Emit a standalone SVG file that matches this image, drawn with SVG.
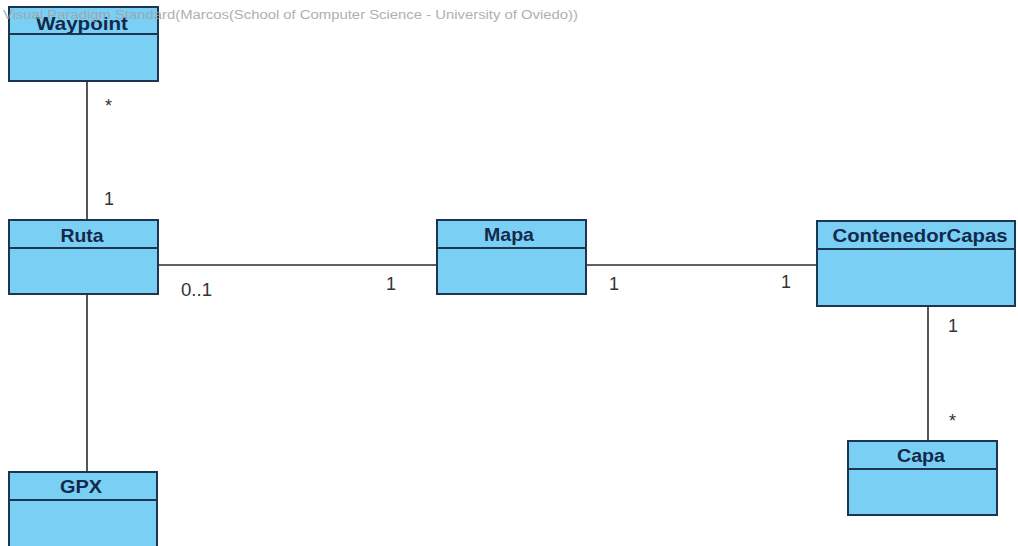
<svg xmlns="http://www.w3.org/2000/svg" width="1018" height="546" viewBox="0 0 1018 546">
  <style>
    .box { fill: #7acff5; stroke: #1d3550; stroke-width: 2; }
    .div { stroke: #1d3550; stroke-width: 2; }
    .name { font-family: "Liberation Sans", Arial, sans-serif; font-weight: bold; font-size: 19px; fill: #13294a; text-anchor: middle; }
    .conn { stroke: #2b2b2b; stroke-width: 1.6; fill: none; }
    .mult { font-family: "Liberation Sans", Arial, sans-serif; font-size: 18px; fill: #333333; }
    .wm { font-family: "Liberation Sans", Arial, sans-serif; font-size: 12px; fill: #a3a3a3; }
  </style>
  <rect width="1018" height="546" fill="#ffffff"/>

  <!-- associations -->
  <g id="connectors">
    <line class="conn" x1="87" y1="81" x2="87" y2="220"/>
    <line class="conn" x1="87" y1="294" x2="87" y2="472"/>
    <line class="conn" x1="158" y1="265" x2="437" y2="265"/>
    <line class="conn" x1="586" y1="265" x2="817" y2="265"/>
    <line class="conn" x1="928" y1="306" x2="928" y2="441"/>
    <text class="mult" x="105" y="112">*</text>
    <text class="mult" x="104" y="205">1</text>
    <text class="mult" x="181" y="296" textLength="31" lengthAdjust="spacingAndGlyphs">0..1</text>
    <text class="mult" x="386" y="290">1</text>
    <text class="mult" x="609" y="290">1</text>
    <text class="mult" x="781" y="288">1</text>
    <text class="mult" x="948" y="332">1</text>
    <text class="mult" x="949" y="427">*</text>
  </g>

  <g id="Waypoint">
    <rect class="box" x="9" y="7" width="149" height="74"/>
    <line class="div" x1="9" y1="34" x2="158" y2="34"/>
    <text class="name" x="82" y="30" textLength="92" lengthAdjust="spacingAndGlyphs">Waypoint</text>
  </g>

  <g id="Ruta">
    <rect class="box" x="9" y="220" width="149" height="74"/>
    <line class="div" x1="9" y1="248" x2="158" y2="248"/>
    <text class="name" x="82" y="242" textLength="43" lengthAdjust="spacingAndGlyphs">Ruta</text>
  </g>

  <g id="Mapa">
    <rect class="box" x="437" y="220" width="149" height="74"/>
    <line class="div" x1="437" y1="248" x2="586" y2="248"/>
    <text class="name" x="509" y="241" textLength="50" lengthAdjust="spacingAndGlyphs">Mapa</text>
  </g>

  <g id="ContenedorCapas">
    <rect class="box" x="817" y="221" width="198" height="85"/>
    <line class="div" x1="817" y1="249" x2="1015" y2="249"/>
    <text class="name" x="920" y="242" textLength="175" lengthAdjust="spacingAndGlyphs">ContenedorCapas</text>
  </g>

  <g id="Capa">
    <rect class="box" x="848" y="441" width="149" height="74"/>
    <line class="div" x1="848" y1="469" x2="997" y2="469"/>
    <text class="name" x="921" y="462" textLength="48" lengthAdjust="spacingAndGlyphs">Capa</text>
  </g>

  <g id="GPX">
    <rect class="box" x="9" y="472" width="148" height="80"/>
    <line class="div" x1="9" y1="500" x2="157" y2="500"/>
    <text class="name" x="81" y="493" textLength="42" lengthAdjust="spacingAndGlyphs">GPX</text>
  </g>

  <text class="wm" x="3" y="19" textLength="575" lengthAdjust="spacingAndGlyphs" opacity="0.85">Visual Paradigm Standard(Marcos(School of Computer Science - University of Oviedo))</text>
</svg>
